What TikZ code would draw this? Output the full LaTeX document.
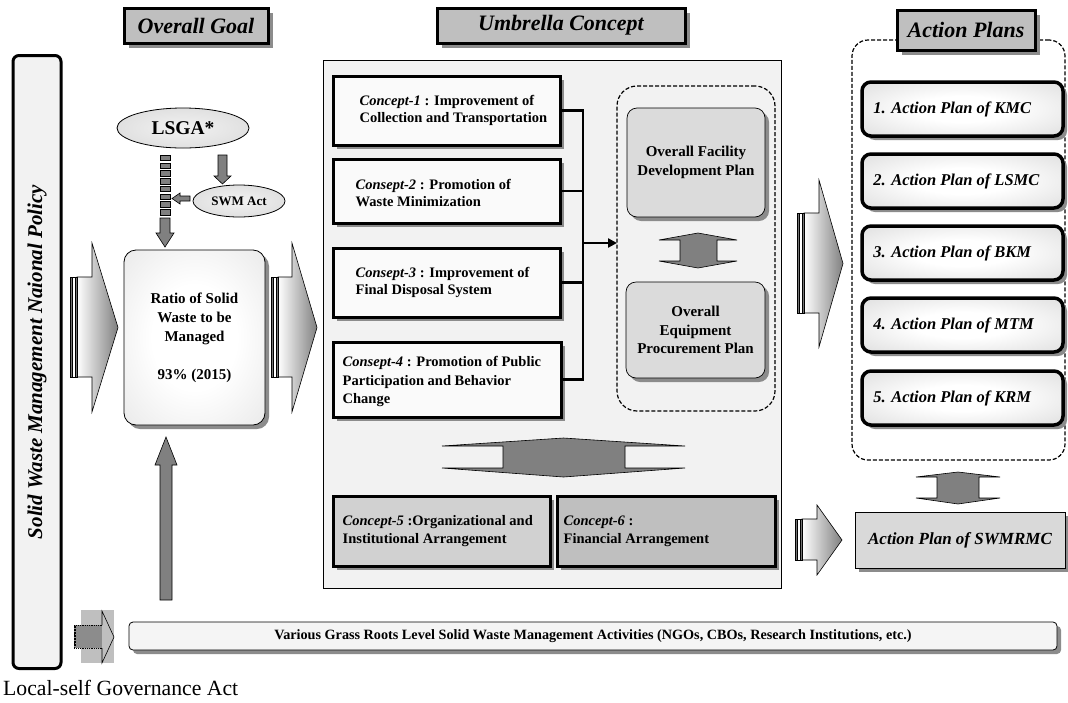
\documentclass[tikz,border=0pt]{standalone}
\usepackage{fontspec}
\setmainfont{Liberation Serif}
\usetikzlibrary{shapes.geometric,shadows,arrows.meta}
\newcommand\myfs[2]{\fontsize{#1}{#2}\selectfont}
\pgfdeclareradialshading{softplan}{\pgfpoint{0bp}{0bp}}{color(0bp)=(white); color(12bp)=(white); color(35bp)=(black!12); color(50bp)=(black!32); color(75bp)=(black!40)}
\pgfdeclareradialshading{softratio}{\pgfpoint{0bp}{0bp}}{color(0bp)=(white); color(15bp)=(white); color(40bp)=(black!10); color(50bp)=(black!22); color(75bp)=(black!30)}
\pgfdeclareradialshading{softell}{\pgfpoint{0bp}{0bp}}{color(0bp)=(black!5); color(25bp)=(black!12); color(50bp)=(black!22); color(75bp)=(black!25)}
\newcommand\BigArrow[8]{%
  \shadedraw[left color=white,right color=black!50,draw=black,line width=0.6pt]
    (#1+7,#4) -- (#2,#4) -- (#2,#6) -- (#3,#8) -- (#2,#7) -- (#2,#5) -- (#1+7,#5) -- cycle;
  \filldraw[fill=black!55,draw=black,line width=0.5pt] (#1,#4) rectangle (#1+2.5,#5);
  \filldraw[fill=white,draw=black,line width=0.5pt] (#1+2.5,#4) rectangle (#1+5,#5);
  \filldraw[fill=black!55,draw=black,line width=0.5pt] (#1+5,#4) rectangle (#1+7,#5);
}
\newcommand\DblArrow[8]{%
  \filldraw[fill=black!50,draw=black,line width=0.6pt]
    (#1,#6) -- ({(#1+#4)/2},#5) -- (#4,#6) -- (#3,#6) -- (#3,#7) -- (#4,#7) -- ({(#1+#4)/2},#8) -- (#1,#7) -- (#2,#7) -- (#2,#6) -- cycle;
}
\begin{document}
\begin{tikzpicture}[x=1pt,y=-1pt,
  shd/.style={drop shadow={shadow xshift=4pt,shadow yshift=-4pt,fill=black!45,opacity=1}},
  titlebox/.style={draw,line width=3pt,fill=black!25,drop shadow={shadow xshift=5pt,shadow yshift=-5pt,fill=black!45,opacity=1},font=\myfs{22}{26}\bfseries\itshape,inner sep=0pt},
  conceptbox/.style={draw,line width=3pt,fill=black!2,shd,inner sep=0pt},
  ctext/.style={font=\myfs{14.5}{17.5}\bfseries,align=left,inner sep=0pt,anchor=west},
  planbox/.style={draw,line width=0.7pt,rounded corners=10pt,fill=black!14,shd,font=\myfs{15}{18.5}\bfseries,align=center,inner sep=0pt},
  actbox/.style={draw,line width=3.5pt,rounded corners=9pt,shading=softplan,shd,inner sep=0pt,minimum width=201,minimum height=54},
  atext/.style={font=\myfs{16.5}{19}\bfseries\itshape,inner sep=0pt,anchor=west},
  dashbox/.style={draw,dash pattern=on 4pt off 2pt,line width=1.2pt,inner sep=0pt},
  gray arrow/.style={fill=black!50,draw=black,line width=0.6pt},
  bus/.style={line width=2.5pt}
]
\fill[white] (0,0) rectangle (1068,702);
\useasboundingbox (0,0) rectangle (1068,702);

% left policy bar
\node[draw,line width=3pt,rounded corners=6pt,fill=black!5,minimum width=48,minimum height=613,inner sep=0pt] (bar) at (37,362) {};
\node[rotate=90,font=\myfs{21}{25}\bfseries\itshape,inner sep=0pt] (bartext) at (bar.center) {Solid Waste Management Naional Policy};

% umbrella area
\node[draw,line width=0.7pt,fill=black!5,minimum width=458,minimum height=528,inner sep=0pt] (umb) at (552,324) {};
\node[dashbox,rounded corners=20pt,minimum width=158,minimum height=325] (fdash) at (696,248.5) {};
\node[dashbox,rounded corners=16pt,minimum width=213,minimum height=420] (adash) at (958.5,250) {};

% titles
\node[titlebox,minimum width=144,minimum height=35] (tgoal) at (196,25.5) {Overall Goal};
\node[titlebox,minimum width=248,minimum height=35] (tumb) at (561,25.5) {Umbrella Concept};
\node[titlebox,minimum width=138,minimum height=40] (tact) at (966,30) {Action Plans};

% LSGA and SWM Act
\node[ellipse,draw,line width=0.8pt,shading=softell,minimum width=132,minimum height=40,inner sep=0pt,font=\myfs{19.5}{22}\bfseries] (lsga) at (183,128) {LSGA*};
\node[ellipse,draw,line width=0.8pt,shading=softell,minimum width=92,minimum height=32,inner sep=0pt,font=\myfs{13}{15}\bfseries] (swm) at (239,201) {SWM Act};
\filldraw[gray arrow] (218,155) -- (227,155) -- (227,176) -- (231,176) -- (222.5,184) -- (214,176) -- (218,176) -- cycle;
\foreach \i in {0,...,7} \filldraw[fill=black!50,draw=black,line width=0.5pt] (160,155+\i*7.75) rectangle (170,160.5+\i*7.75);
\filldraw[gray arrow] (160,218) -- (170,218) -- (170,233) -- (174,233) -- (165,247) -- (156,233) -- (160,233) -- cycle;
\filldraw[gray arrow] (190,196) -- (180,196) -- (180,193) -- (172,198.5) -- (180,204) -- (180,201) -- (190,201) -- cycle;

% ratio box
\node[draw,line width=0.8pt,rounded corners=12pt,shading=softratio,shd,minimum width=141,minimum height=175,inner sep=0pt,align=center,font=\myfs{15}{19}\bfseries] (ratio) at (194.5,337.5) {Ratio of Solid\\Waste to be\\Managed\\[19pt]93\% (2015)};

% big arrows
\BigArrow{70}{92}{118}{277}{377}{243}{412}{327.5}
\BigArrow{271}{292}{317}{277}{377}{243}{412}{327.5}
\BigArrow{797}{819}{843}{213}{313}{180}{347}{263.5}
\BigArrow{795}{817}{842}{519}{560}{505}{575}{540}

% concepts
\node[conceptbox,minimum width=227,minimum height=69] (c1) at (446.5,110.5) {};
\node[ctext] (c1t) at ([xshift=28pt]c1.west) {\textit{Concept-1} : Improvement of\\Collection and Transportation};
\node[conceptbox,minimum width=227,minimum height=64] (c2) at (446.5,191) {};
\node[ctext] (c2t) at ([xshift=24pt,yshift=-2pt]c2.west) {\textit{Consept-2} : Promotion of\\Waste Minimization};
\node[conceptbox,minimum width=227,minimum height=69] (c3) at (446.5,282.5) {};
\node[ctext] (c3t) at ([xshift=24pt]c3.west) {\textit{Consept-3} : Improvement of\\Final Disposal System};
\node[conceptbox,minimum width=228,minimum height=75] (c4) at (447,379.5) {};
\node[ctext,font=\myfs{14.5}{18.3}\bfseries] (c4t) at ([xshift=11pt,yshift=-2pt]c4.west) {\textit{Consept-4} : Promotion of Public\\Participation and Behavior\\Change};
\node[conceptbox,fill=black!18,minimum width=217,minimum height=70] (c5) at (441.5,531) {};
\node[ctext,font=\myfs{14.5}{18.3}\bfseries] (c5t) at ([xshift=11pt]c5.west) {\textit{Concept-5} :Organizational and\\Institutional Arrangement};
\node[conceptbox,fill=black!25,minimum width=218,minimum height=70] (c6) at (666,531) {};
\node[ctext,font=\myfs{14.5}{18.3}\bfseries] (c6t) at ([xshift=8pt]c6.west) {\textit{Concept-6} :\\Financial Arrangement};

% connectors
\coordinate (busx) at (583,0);
\coordinate (fin) at (617,243);
\draw[bus] (c1.east) -- (c1.east -| busx) -- (c4.east -| busx) -- (c4.east);
\draw[bus] (c2.east) -- (c2.east -| busx);
\draw[bus] (c3.east) -- (c3.east -| busx);
\draw[bus,-{Triangle[length=9pt,width=9pt]}] (busx |- fin) -- (fin);

% plans
\node[planbox,minimum width=138,minimum height=109] (fac) at (696,162.5) {Overall Facility\\Development Plan};
\node[planbox,minimum width=139,minimum height=96] (equ) at (695.5,330) {Overall\\Equipment\\Procurement Plan};

% double arrows
\DblArrow{659}{680}{717}{737}{233}{240}{261}{268}
\DblArrow{442}{503}{625}{685}{438}{446}{468}{477}
\DblArrow{916}{937}{979}{1000}{472}{477}{498}{504}

% action plans
\foreach \n/\y/\t in {1/109/1. Action Plan of KMC,2/181/2. Action Plan of LSMC,3/253/3. Action Plan of BKM,4/325/4. Action Plan of MTM,5/398/5. Action Plan of KRM}{
  \node[actbox] (ap\n) at (962.5,\y) {};
  \node[atext] (ap\n t) at ([xshift=13pt]ap\n.west) {\t};
}
\node[draw,line width=0.7pt,fill=black!15,shd,minimum width=210,minimum height=56,inner sep=0pt,font=\myfs{17}{19}\bfseries\itshape] (swmrmc) at (960,540) {Action Plan of SWMRMC};

% grass roots bar
\node[draw,line width=0.8pt,rounded corners=4pt,fill=black!4,shd,minimum width=928,minimum height=28,inner sep=0pt,font=\myfs{14.2}{16}\bfseries] (grass) at (593,636) {Various Grass Roots Level Solid Waste Management Activities (NGOs, CBOs, Research Institutions, etc.)};
\filldraw[gray arrow] (160,600) -- (160,465) -- (155,465) -- (166,437) -- (177,465) -- (172,465) -- (172,600) -- cycle;

% small bottom-left arrow
\fill[black!25] (81,610) rectangle (114,663);
\filldraw[fill=black!45,draw=black,densely dotted,line width=0.8pt] (74,625) rectangle (102,648);
\draw[line width=2pt,densely dotted] (75,626) -- (75,647);
\filldraw[fill=black!25,draw=black,line width=0.6pt] (102,625) -- (102,611) -- (114,637) -- (102,663) -- (102,648);

\node[anchor=base west,inner sep=0pt,font=\myfs{21.7}{24}] (note) at (3,695) {Local-self Governance Act};
\end{tikzpicture}
\end{document}
